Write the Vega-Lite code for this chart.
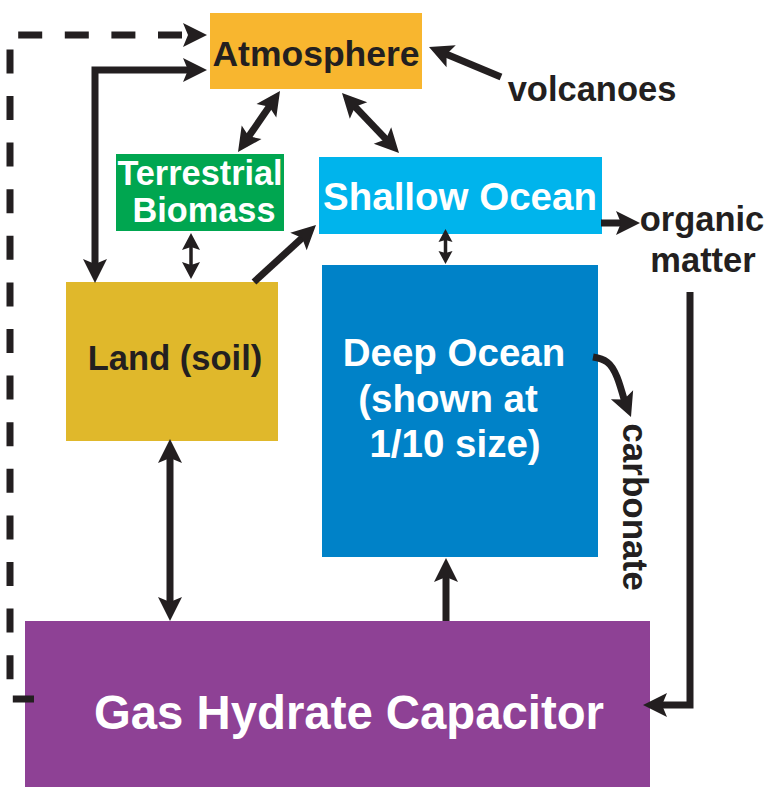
{
  "$schema": "https://vega.github.io/schema/vega-lite/v6.json",
  "width": 766,
  "height": 787,
  "padding": 0,
  "autosize": {"type": "none"},
  "background": "white",
  "config": {"view": {"stroke": null}},
  "datasets": {
    "boxes": [
      {"name": "Atmosphere", "x": 210, "x2": 422, "y": 13, "y2": 89},
      {"name": "Terrestrial Biomass", "x": 116, "x2": 284, "y": 154, "y2": 231},
      {"name": "Shallow Ocean", "x": 319, "x2": 602, "y": 157, "y2": 234},
      {"name": "Land (soil)", "x": 66, "x2": 278, "y": 282, "y2": 441},
      {"name": "Deep Ocean", "x": 322, "x2": 598, "y": 265, "y2": 557},
      {"name": "Gas Hydrate Capacitor", "x": 25, "x2": 650, "y": 621, "y2": 787}
    ],
    "thick": [
      {"id": "p1", "i": 0, "x": 95, "y": 266}, {"id": "p1", "i": 1, "x": 95, "y": 70}, {"id": "p1", "i": 2, "x": 190, "y": 70},
      {"id": "p2", "i": 0, "x": 270.4, "y": 105}, {"id": "p2", "i": 1, "x": 247.6, "y": 138},
      {"id": "p3", "i": 0, "x": 353.7, "y": 105.3}, {"id": "p3", "i": 1, "x": 387.3, "y": 140.7},
      {"id": "p4", "i": 0, "x": 501, "y": 77}, {"id": "p4", "i": 1, "x": 444.7, "y": 53.5},
      {"id": "p5", "i": 0, "x": 254, "y": 282}, {"id": "p5", "i": 1, "x": 303.6, "y": 236.6},
      {"id": "p6", "i": 0, "x": 601, "y": 223}, {"id": "p6", "i": 1, "x": 623, "y": 223},
      {"id": "p7", "i": 0, "x": 690, "y": 292}, {"id": "p7", "i": 1, "x": 690, "y": 705}, {"id": "p7", "i": 2, "x": 660, "y": 705},
      {"id": "p9", "i": 0, "x": 170, "y": 456}, {"id": "p9", "i": 1, "x": 170, "y": 604},
      {"id": "p10", "i": 0, "x": 446, "y": 621}, {"id": "p10", "i": 1, "x": 446, "y": 575}
    ],
    "curve": [
      {"id": "c1", "i": 0, "x": 593, "y": 357},
      {"id": "c1", "i": 1, "x": 607, "y": 362},
      {"id": "c1", "i": 2, "x": 617, "y": 377},
      {"id": "c1", "i": 3, "x": 624.6, "y": 401}
    ],
    "thin": [
      {"id": "t1", "i": 0, "x": 191, "y": 245}, {"id": "t1", "i": 1, "x": 191, "y": 267},
      {"id": "t2", "i": 0, "x": 445.5, "y": 239}, {"id": "t2", "i": 1, "x": 445.5, "y": 254}
    ],
    "dashed": [
      {"id": "d1", "i": 0, "x": 182, "y": 35},
      {"id": "d1", "i": 1, "x": 10, "y": 35},
      {"id": "d1", "i": 2, "x": 10, "y": 699},
      {"id": "d1", "i": 3, "x": 34, "y": 699}
    ],
    "headsBig": [
      {"x": 95, "y": 283, "angle": 180},
      {"x": 207, "y": 70, "angle": 90},
      {"x": 207, "y": 35, "angle": 90},
      {"x": 280, "y": 91, "angle": 34.5},
      {"x": 238, "y": 152, "angle": 214.5},
      {"x": 342, "y": 93, "angle": 316.5},
      {"x": 399, "y": 153, "angle": 136.5},
      {"x": 429, "y": 47, "angle": 292.6},
      {"x": 316, "y": 225, "angle": 46.9},
      {"x": 640, "y": 223, "angle": 90},
      {"x": 643, "y": 705, "angle": 270},
      {"x": 631, "y": 417, "angle": 158},
      {"x": 170, "y": 439, "angle": 0},
      {"x": 170, "y": 621, "angle": 180},
      {"x": 446, "y": 558, "angle": 0}
    ],
    "headsMid": [
      {"x": 191, "y": 233, "angle": 0},
      {"x": 191, "y": 279, "angle": 180}
    ],
    "headsSmall": [
      {"x": 445.5, "y": 229, "angle": 0},
      {"x": 445.5, "y": 264, "angle": 180}
    ],
    "textAtm": [
      {"label": "Atmosphere", "x": 316, "y": 66}
    ],
    "textDark": [
      {"label": "volcanoes", "x": 592, "y": 101},
      {"label": "organic", "x": 702, "y": 231},
      {"label": "matter", "x": 703, "y": 272},
      {"label": "Land (soil)", "x": 175, "y": 370}
    ],
    "textWhiteSmall": [
      {"label": "Terrestrial", "x": 200, "y": 185},
      {"label": "Biomass", "x": 204, "y": 222}
    ],
    "textWhite": [
      {"label": "Shallow Ocean", "x": 460, "y": 210},
      {"label": "Deep Ocean", "x": 454, "y": 366},
      {"label": "(shown at", "x": 448, "y": 412},
      {"label": "1/10 size)", "x": 455, "y": 457}
    ],
    "textBig": [
      {"label": "Gas Hydrate Capacitor", "x": 349, "y": 729}
    ],
    "textRot": [
      {"label": "carbonate", "x": 623, "y": 507}
    ]
  },
  "encoding": {
    "x": {"field": "x", "type": "quantitative", "scale": {"domain": [0, 766], "nice": false, "zero": false}, "axis": null},
    "y": {"field": "y", "type": "quantitative", "scale": {"domain": [0, 787], "nice": false, "zero": false, "reverse": true}, "axis": null}
  },
  "layer": [
    {
      "data": {"name": "boxes"},
      "mark": {"type": "rect", "strokeWidth": 0},
      "encoding": {
        "x2": {"field": "x2"},
        "y2": {"field": "y2"},
        "color": {
          "field": "name", "type": "nominal", "legend": null,
          "scale": {
            "domain": ["Atmosphere", "Terrestrial Biomass", "Shallow Ocean", "Land (soil)", "Deep Ocean", "Gas Hydrate Capacitor"],
            "range": ["#F8B62F", "#00A650", "#00B4EC", "#E0B82B", "#0082C8", "#8E4195"]
          }
        }
      }
    },
    {
      "data": {"name": "dashed"},
      "mark": {"type": "line", "color": "#231F20", "strokeWidth": 7, "strokeDash": [24, 22.6], "strokeCap": "butt", "strokeJoin": "miter"},
      "encoding": {"order": {"field": "i", "type": "quantitative"}, "detail": {"field": "id", "type": "nominal"}}
    },
    {
      "data": {"name": "thick"},
      "mark": {"type": "line", "color": "#231F20", "strokeWidth": 7, "strokeCap": "butt", "strokeJoin": "miter"},
      "encoding": {"order": {"field": "i", "type": "quantitative"}, "detail": {"field": "id", "type": "nominal"}}
    },
    {
      "data": {"name": "curve"},
      "mark": {"type": "line", "color": "#231F20", "strokeWidth": 7, "strokeCap": "butt", "interpolate": "monotone"},
      "encoding": {"order": {"field": "i", "type": "quantitative"}, "detail": {"field": "id", "type": "nominal"}}
    },
    {
      "data": {"name": "thin"},
      "mark": {"type": "line", "color": "#231F20", "strokeWidth": 3.5, "strokeCap": "butt"},
      "encoding": {"order": {"field": "i", "type": "quantitative"}, "detail": {"field": "id", "type": "nominal"}}
    },
    {
      "data": {"name": "headsBig"},
      "mark": {"type": "point", "shape": "M0,0L-12,24L0,19L12,24Z", "size": 4, "filled": true, "color": "#231F20", "opacity": 1, "strokeWidth": 0},
      "encoding": {"angle": {"field": "angle", "type": "quantitative", "scale": null}}
    },
    {
      "data": {"name": "headsMid"},
      "mark": {"type": "point", "shape": "M0,0L-9,17L0,14L9,17Z", "size": 4, "filled": true, "color": "#231F20", "opacity": 1, "strokeWidth": 0},
      "encoding": {"angle": {"field": "angle", "type": "quantitative", "scale": null}}
    },
    {
      "data": {"name": "headsSmall"},
      "mark": {"type": "point", "shape": "M0,0L-7,13L0,11L7,13Z", "size": 4, "filled": true, "color": "#231F20", "opacity": 1, "strokeWidth": 0},
      "encoding": {"angle": {"field": "angle", "type": "quantitative", "scale": null}}
    },
    {
      "data": {"name": "textAtm"},
      "mark": {"type": "text", "font": "Liberation Sans", "fontWeight": "bold", "fontSize": 35.5, "color": "#231F20", "align": "center", "baseline": "alphabetic"},
      "encoding": {"text": {"field": "label"}}
    },
    {
      "data": {"name": "textDark"},
      "mark": {"type": "text", "font": "Liberation Sans", "fontWeight": "bold", "fontSize": 34.5, "color": "#231F20", "align": "center", "baseline": "alphabetic"},
      "encoding": {"text": {"field": "label"}}
    },
    {
      "data": {"name": "textWhiteSmall"},
      "mark": {"type": "text", "font": "Liberation Sans", "fontWeight": "bold", "fontSize": 34.3, "color": "#FFFFFF", "align": "center", "baseline": "alphabetic"},
      "encoding": {"text": {"field": "label"}}
    },
    {
      "data": {"name": "textWhite"},
      "mark": {"type": "text", "font": "Liberation Sans", "fontWeight": "bold", "fontSize": 38.5, "color": "#FFFFFF", "align": "center", "baseline": "alphabetic"},
      "encoding": {"text": {"field": "label"}}
    },
    {
      "data": {"name": "textBig"},
      "mark": {"type": "text", "font": "Liberation Sans", "fontWeight": "bold", "fontSize": 47.3, "color": "#FFFFFF", "align": "center", "baseline": "alphabetic"},
      "encoding": {"text": {"field": "label"}}
    },
    {
      "data": {"name": "textRot"},
      "mark": {"type": "text", "font": "Liberation Sans", "fontWeight": "bold", "fontSize": 35, "color": "#231F20", "align": "center", "baseline": "alphabetic", "angle": 90},
      "encoding": {"text": {"field": "label"}}
    }
  ]
}
